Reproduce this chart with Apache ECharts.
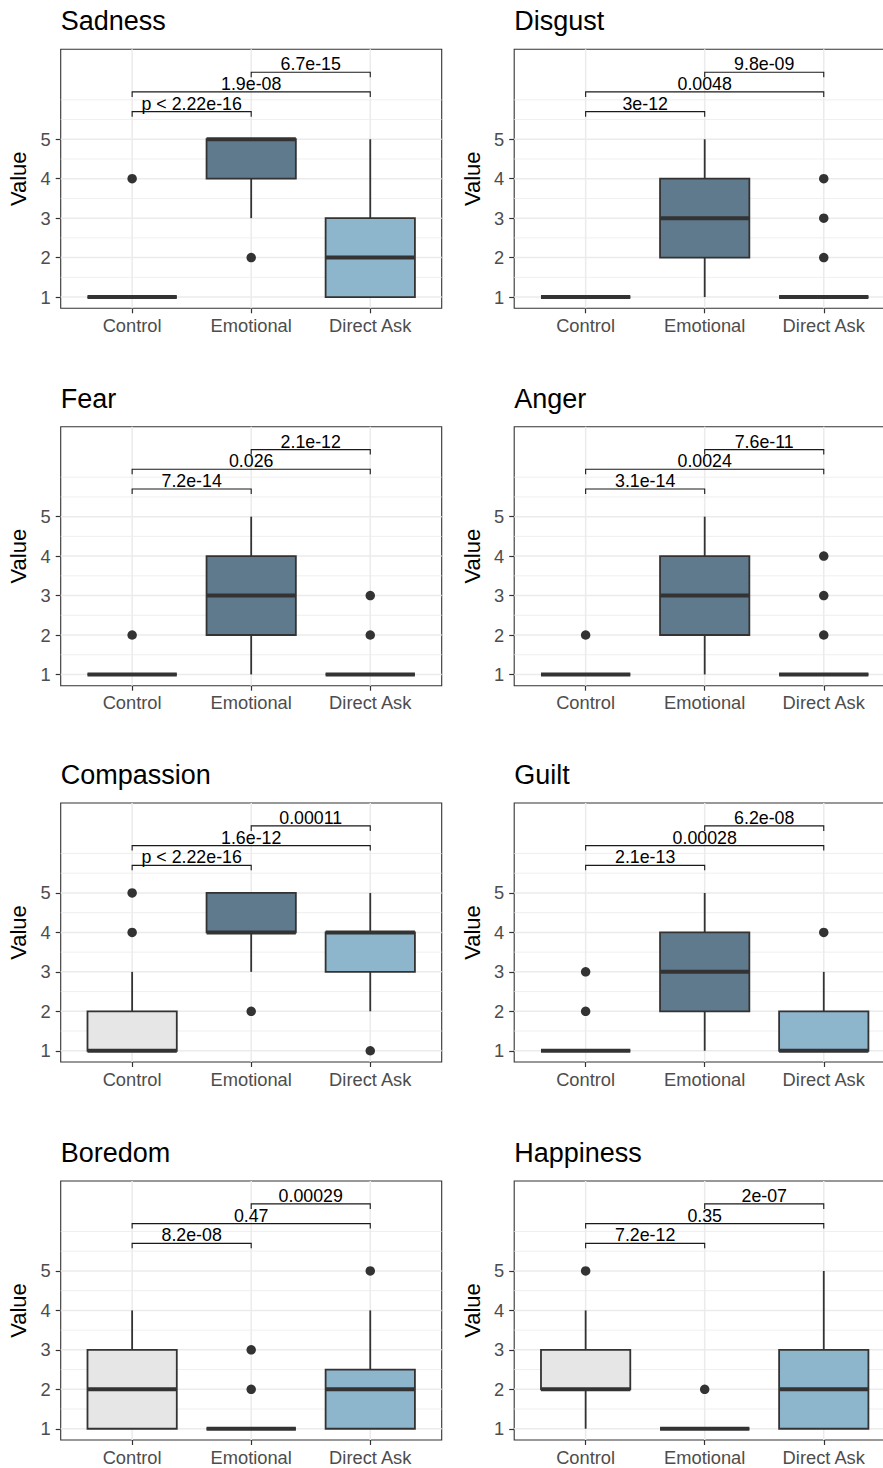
<!DOCTYPE html>
<html>
<head>
<meta charset="utf-8">
<title>Emotion ratings by condition</title>
<script src="https://cdn.jsdelivr.net/npm/echarts@6/dist/echarts.min.js"></script>
<style>
  html, body { margin: 0; padding: 0; background: #ffffff; }
  #chart { width: 883px; height: 1468px; }
</style>
</head>
<body>
<div id="chart"></div>
<script>
// ---- data ---------------------------------------------------------------
const categoryNames = ['Control', 'Emotional', 'Direct Ask'];
const yMajorBreaks = [1, 2, 3, 4, 5];
const yMinorBreaks = [1.5, 2.5, 3.5, 4.5, 5.5, 6];
const comparisonPairs = [[1, 2], [1, 3], [2, 3]];
const bracketLevels = [5.7, 6.2, 6.7];

const panelTitles = ['Sadness', 'Disgust', 'Fear', 'Anger', 'Compassion', 'Guilt', 'Boredom', 'Happiness'];

// per group: [lower whisker, Q1, median, Q3, upper whisker]
const sadnessStats    = [[1, 1, 1, 1, 1], [3, 4, 5, 5, 5], [1, 1, 2, 3, 5]];
const disgustStats    = [[1, 1, 1, 1, 1], [1, 2, 3, 4, 5], [1, 1, 1, 1, 1]];
const fearStats       = [[1, 1, 1, 1, 1], [1, 2, 3, 4, 5], [1, 1, 1, 1, 1]];
const angerStats      = [[1, 1, 1, 1, 1], [1, 2, 3, 4, 5], [1, 1, 1, 1, 1]];
const compassionStats = [[1, 1, 1, 2, 3], [3, 4, 4, 5, 5], [2, 3, 4, 4, 5]];
const guiltStats      = [[1, 1, 1, 1, 1], [1, 2, 3, 4, 5], [1, 1, 1, 2, 3]];
const boredomStats    = [[1, 1, 2, 3, 4], [1, 1, 1, 1, 1], [1, 1, 2, 2.5, 4]];
const happinessStats  = [[1, 2, 2, 3, 4], [1, 1, 1, 1, 1], [1, 1, 2, 3, 5]];

// outliers: [group position, value]
const sadnessOutliers    = [[1, 4], [2, 2]];
const disgustOutliers    = [[3, 2], [3, 3], [3, 4]];
const fearOutliers       = [[1, 2], [3, 2], [3, 3]];
const angerOutliers      = [[1, 2], [3, 2], [3, 3], [3, 4]];
const compassionOutliers = [[1, 4], [1, 5], [2, 2], [3, 1]];
const guiltOutliers      = [[1, 2], [1, 3], [3, 4]];
const boredomOutliers    = [[2, 2], [2, 3], [3, 5]];
const happinessOutliers  = [[1, 5], [2, 2]];

// p-values for Control–Emotional, Control–Direct Ask, Emotional–Direct Ask
const sadnessP    = ['p < 2.22e-16', '1.9e-08', '6.7e-15'];
const disgustP    = ['3e-12', '0.0048', '9.8e-09'];
const fearP       = ['7.2e-14', '0.026', '2.1e-12'];
const angerP      = ['3.1e-14', '0.0024', '7.6e-11'];
const compassionP = ['p < 2.22e-16', '1.6e-12', '0.00011'];
const guiltP      = ['2.1e-13', '0.00028', '6.2e-08'];
const boredomP    = ['8.2e-08', '0.47', '0.00029'];
const happinessP  = ['7.2e-12', '0.35', '2e-07'];

const panelStats = [sadnessStats, disgustStats, fearStats, angerStats, compassionStats, guiltStats, boredomStats, happinessStats];
const panelOutliers = [sadnessOutliers, disgustOutliers, fearOutliers, angerOutliers, compassionOutliers, guiltOutliers, boredomOutliers, happinessOutliers];
const panelP = [sadnessP, disgustP, fearP, angerP, compassionP, guiltP, boredomP, happinessP];

// ---- look & layout ------------------------------------------------------
const FONT = '"Liberation Sans", Arial, Helvetica, sans-serif';
const groupFills = ['#e6e6e6', '#5f7a8c', '#8db5cb'];
const INK = '#333333';
const GRID_COLOR = '#ebebeb';
const colLeft = [60.7, 514.2];
const rowTop = [49.3, 426.7, 803.0, 1181.0];
const PLOT_W = 381;
const PLOT_H = 259;
const X_MIN = 0.4, X_MAX = 3.6;
const Y_MIN = 0.715, Y_MAX = 7.28;

const grids = [], xAxes = [], yAxes = [], titles = [], series = [];

panelTitles.forEach(function (name, i) {
  const col = i % 2, row = Math.floor(i / 2);
  const left = colLeft[col], top = rowTop[row];

  titles.push({
    text: name, left: left, top: top - 41.5, padding: 0,
    textStyle: { fontSize: 27, fontWeight: 'normal', color: '#000000', fontFamily: FONT }
  });

  grids.push({
    left: left, top: top, width: PLOT_W, height: PLOT_H,
    outerBoundsMode: 'none', containLabel: false,
    show: true, backgroundColor: '#ffffff', borderColor: INK, borderWidth: 1.1
  });

  xAxes.push({
    gridIndex: i, type: 'value', min: X_MIN, max: X_MAX,
    axisLine: { show: false },
    axisTick: { show: true, customValues: [1, 2, 3], length: 5, lineStyle: { color: INK, width: 1.2 } },
    axisLabel: {
      customValues: [1, 2, 3],
      formatter: function (v) { return categoryNames[Math.round(v) - 1]; },
      color: '#4d4d4d', fontSize: 18.3, fontFamily: FONT, margin: 8
    },
    splitLine: { show: false }
  });

  yAxes.push({
    gridIndex: i, type: 'value', min: Y_MIN, max: Y_MAX,
    axisLine: { show: false },
    axisTick: { show: true, customValues: yMajorBreaks, length: 5, lineStyle: { color: INK, width: 1.2 } },
    axisLabel: { customValues: yMajorBreaks, color: '#4d4d4d', fontSize: 18.3, fontFamily: FONT, margin: 10 },
    splitLine: { show: false },
    name: 'Value', nameLocation: 'middle', nameGap: 31, nameRotate: 90,
    nameTextStyle: { fontSize: 22, color: '#000000', fontFamily: FONT }
  });

  // background grid lines: [orientation (0 = horizontal, 1 = vertical), position, major flag]
  const gridData = [];
  yMinorBreaks.forEach(function (v) { gridData.push([0, v, 0]); });
  yMajorBreaks.forEach(function (v) { gridData.push([0, v, 1]); });
  [1, 2, 3].forEach(function (v) { gridData.push([1, v, 1]); });
  series.push({
    type: 'custom', xAxisIndex: i, yAxisIndex: i, silent: true, z: 1,
    data: gridData,
    renderItem: function (params, api) {
      const vertical = api.value(0) === 1, v = api.value(1), major = api.value(2) === 1;
      const a = vertical ? api.coord([v, Y_MIN]) : api.coord([X_MIN, v]);
      const b = vertical ? api.coord([v, Y_MAX]) : api.coord([X_MAX, v]);
      return {
        type: 'line',
        shape: { x1: a[0], y1: a[1], x2: b[0], y2: b[1] },
        style: { stroke: GRID_COLOR, lineWidth: major ? 1.5 : 0.8 }
      };
    }
  });

  // boxes with whiskers and median
  series.push({
    type: 'custom', xAxisIndex: i, yAxisIndex: i, silent: true, z: 2,
    data: panelStats[i].map(function (s, k) { return [k + 1].concat(s).concat([k]); }),
    renderItem: function (params, api) {
      const x = api.value(0);
      const lo = api.value(1), q1 = api.value(2), med = api.value(3), q3 = api.value(4), hi = api.value(5);
      const fill = groupFills[api.value(6)];
      const hw = api.size([0.75, 0])[0] / 2;
      const pLo = api.coord([x, lo]), pQ1 = api.coord([x, q1]), pMed = api.coord([x, med]);
      const pQ3 = api.coord([x, q3]), pHi = api.coord([x, hi]);
      const children = [];
      if (lo < q1) children.push({ type: 'line', shape: { x1: pLo[0], y1: pLo[1], x2: pQ1[0], y2: pQ1[1] }, style: { stroke: INK, lineWidth: 1.8 } });
      if (hi > q3) children.push({ type: 'line', shape: { x1: pQ3[0], y1: pQ3[1], x2: pHi[0], y2: pHi[1] }, style: { stroke: INK, lineWidth: 1.8 } });
      children.push({
        type: 'rect',
        shape: { x: pQ1[0] - hw, y: pQ3[1], width: hw * 2, height: pQ1[1] - pQ3[1] },
        style: { fill: fill, stroke: INK, lineWidth: 1.8 }
      });
      children.push({ type: 'line', shape: { x1: pMed[0] - hw, y1: pMed[1], x2: pMed[0] + hw, y2: pMed[1] }, style: { stroke: INK, lineWidth: 4 } });
      return { type: 'group', children: children };
    }
  });

  // outlying points
  series.push({
    type: 'scatter', xAxisIndex: i, yAxisIndex: i, silent: true, z: 3,
    symbol: 'circle', symbolSize: 9.5,
    itemStyle: { color: INK, opacity: 1 },
    data: panelOutliers[i]
  });

  // pairwise comparison brackets with p-values
  series.push({
    type: 'custom', xAxisIndex: i, yAxisIndex: i, silent: true, z: 4,
    data: comparisonPairs.map(function (pair, k) { return [pair[0], pair[1], bracketLevels[k], k]; }),
    renderItem: function (params, api) {
      const a = api.coord([api.value(0), api.value(2)]);
      const b = api.coord([api.value(1), api.value(2)]);
      const tip = 5;
      const label = panelP[i][api.value(3)];
      return {
        type: 'group',
        children: [
          {
            type: 'polyline',
            shape: { points: [[a[0], a[1] + tip], [a[0], a[1]], [b[0], b[1]], [b[0], b[1] + tip]] },
            style: { stroke: '#1a1a1a', lineWidth: 1.1, fill: null }
          },
          {
            type: 'text',
            x: (a[0] + b[0]) / 2, y: a[1] + 1,
            style: {
              text: label, align: 'center', verticalAlign: 'bottom',
              fontSize: 17.8, fontFamily: FONT, fill: '#000000'
            }
          }
        ]
      };
    }
  });
});

const chart = echarts.init(document.getElementById('chart'), null, { renderer: 'svg', width: 883, height: 1468 });
chart.setOption({
  animation: false,
  backgroundColor: '#ffffff',
  title: titles,
  grid: grids,
  xAxis: xAxes,
  yAxis: yAxes,
  series: series
});
</script>
</body>
</html>
